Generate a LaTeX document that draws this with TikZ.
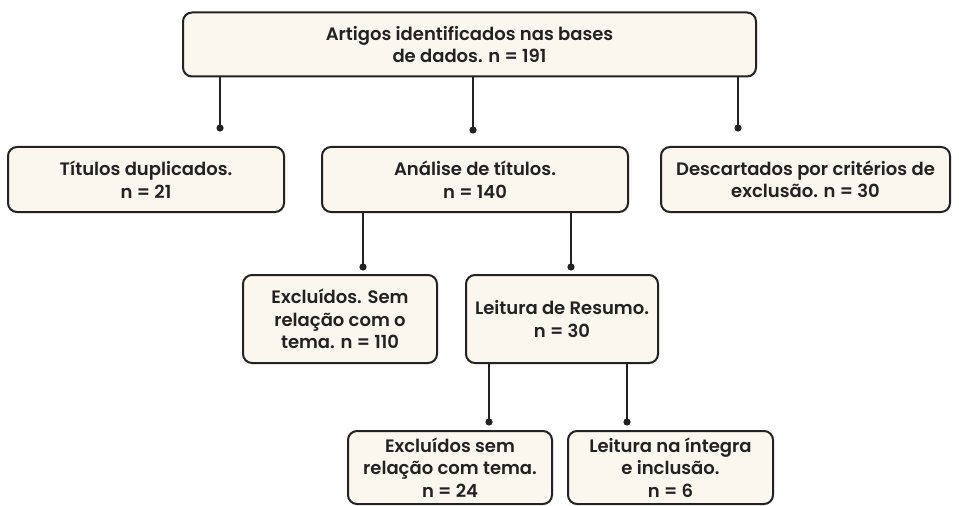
\documentclass[tikz,border=0pt]{standalone}
\usepackage{fontspec}
\newfontfamily\boxfont{Poppins SemiBold}
\usetikzlibrary{calc}

\definecolor{boxfill}{HTML}{FBF6EE}
\definecolor{ink}{HTML}{222222}

\newdimen\px
\px=0.75pt

\tikzset{
  etapa/.style={draw=ink, fill=boxfill, line width=2\px, rounded corners=9\px,
    align=center, inner sep=0pt, text=ink,
    font=\boxfont\fontsize{13.5}{16.8}\selectfont},
  ligacao/.style={draw=ink, line width=2\px}
}

\begin{document}
\begin{tikzpicture}[x=0.75pt, y=-0.75pt]
\useasboundingbox (0,0) rectangle (959,506);

\node [etapa, minimum width=573\px, minimum height=64\px] (bases) at (469.5,44.5)
  {Artigos identificados nas bases\\de dados. n = 191};

\node [etapa, minimum width=276\px, minimum height=65\px] (dup) at (146,179.5)
  {Títulos duplicados.\\n = 21};
\node [etapa, minimum width=306\px, minimum height=65\px] (titulos) at (475,179.5)
  {Análise de títulos.\\n = 140};
\node [etapa, minimum width=289\px, minimum height=65\px] (descart) at (805.5,179.5)
  {Descartados por critérios de\\exclusão. n = 30};

\node [etapa, minimum width=194\px, minimum height=88\px] (semrel) at (340,319)
  {Excluídos. Sem\\relação com o\\tema. n = 110};
\node [etapa, minimum width=192\px, minimum height=88\px] (resumo) at (562,319)
  {Leitura de Resumo.\\n = 30};

\node [etapa, minimum width=204\px, minimum height=73\px] (exclu) at (450,467.5)
  {Excluídos sem\\relação com tema.\\n = 24};
\node [etapa, minimum width=205\px, minimum height=73\px] (integra) at (670.5,467.5)
  {Leitura na íntegra\\e inclusão.\\n = 6};

\coordinate (p1) at (220,128);
\coordinate (p2) at (473,130);
\coordinate (p3) at (738,128);
\coordinate (p4) at (363,267);
\coordinate (p5) at (571,267);
\coordinate (p6) at (489,422);
\coordinate (p7) at (627,422);

\foreach \p in {p1,p2,p3} \draw [ligacao] (bases.south -| \p) -- (\p);
\foreach \p in {p4,p5} \draw [ligacao] (titulos.south -| \p) -- (\p);
\foreach \p in {p6,p7} \draw [ligacao] (resumo.south -| \p) -- (\p);

\foreach \p in {p1,p2,p3,p4,p5,p6,p7} \fill [ink] (\p) circle (3.6);
\end{tikzpicture}
\end{document}
